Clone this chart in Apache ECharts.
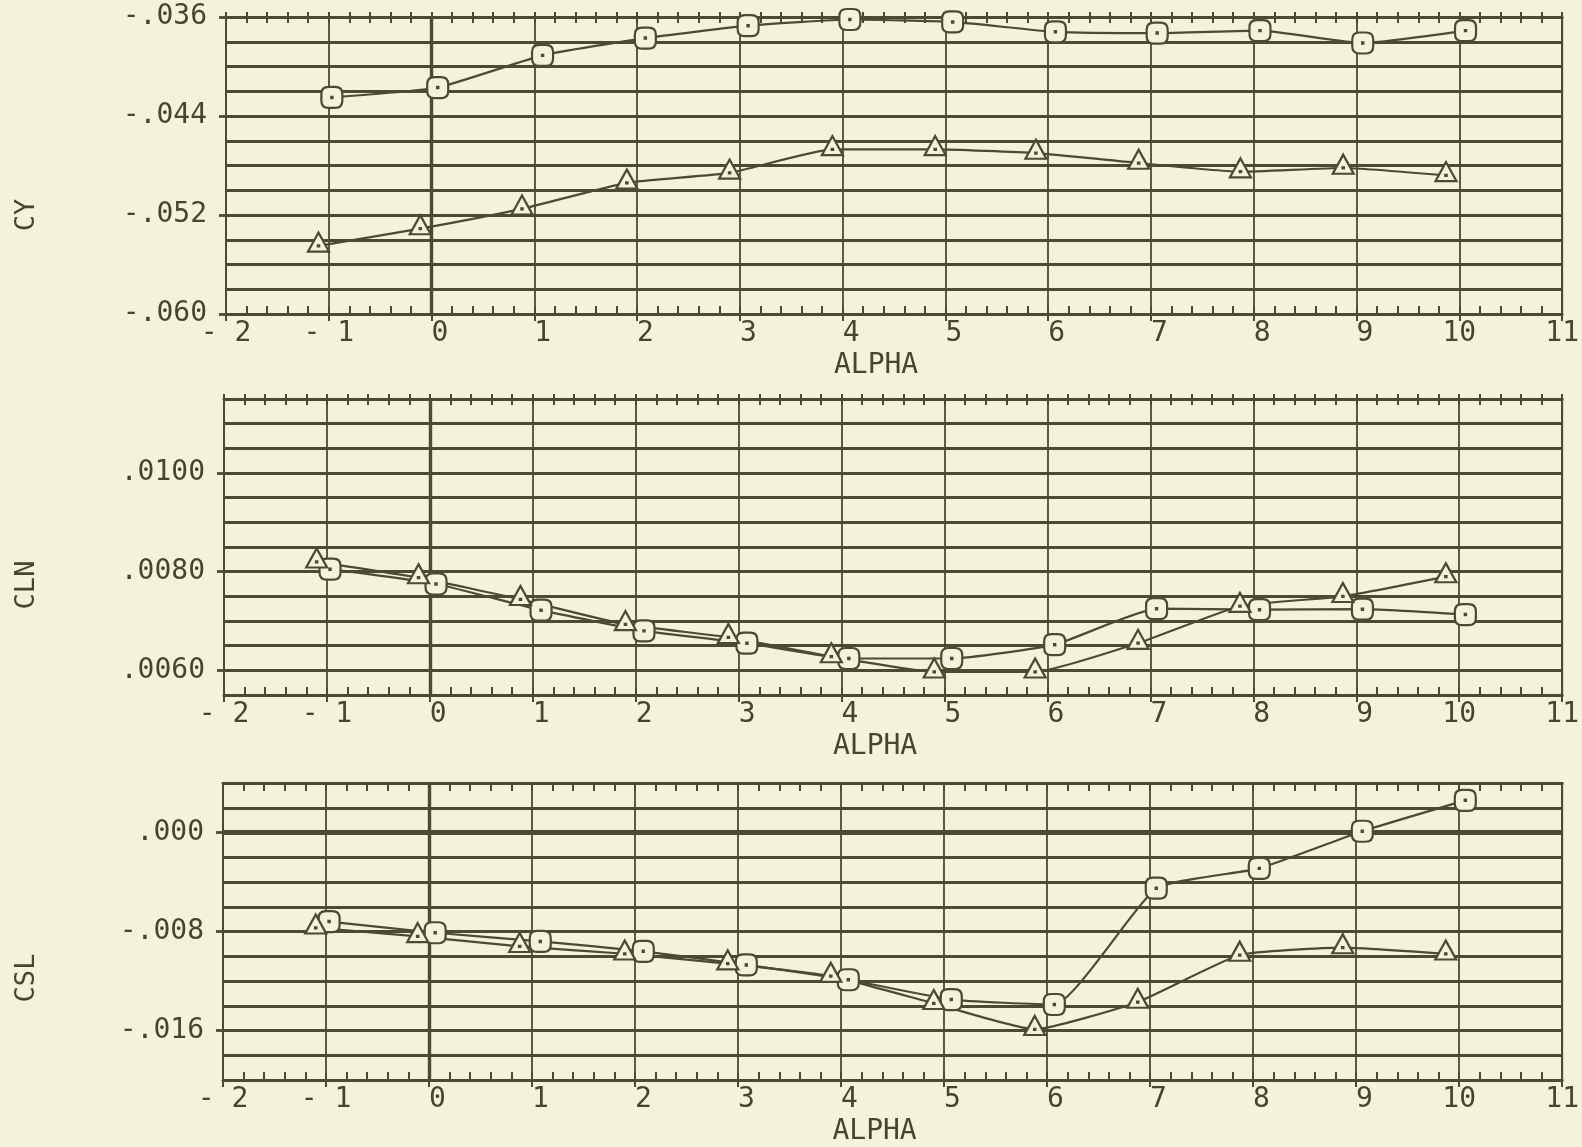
<!DOCTYPE html>
<html><head><meta charset="utf-8">
<script src="https://cdn.jsdelivr.net/npm/echarts@6/dist/echarts.min.js"></script>
<style>html,body{margin:0;padding:0;background:#f2f3da}#c{width:1582px;height:1147px}</style>
</head><body><div id="c"></div>
<script>
// ---- data ----
const alphaCircle   = [-0.97, 0.06, 1.08, 2.08, 3.08, 4.07, 5.07, 6.07, 7.06, 8.06, 9.06, 10.06];
const alphaTriangle = [-1.10, -0.11, 0.88, 1.90, 2.90, 3.90, 4.90, 5.88, 6.88, 7.87, 8.87, 9.87];

const cyCircle    = [-0.0425, -0.0417, -0.0391, -0.0377, -0.0367, -0.0362, -0.0364, -0.0372, -0.0373, -0.0371, -0.0381, -0.0371];
const cyTriangle  = [-0.0545, -0.0531, -0.0515, -0.0494, -0.0486, -0.0467, -0.0467, -0.0470, -0.0478, -0.0485, -0.0482, -0.0488];

const clnCircle   = [0.00805, 0.00775, 0.00722, 0.00680, 0.00655, 0.00624, 0.00624, 0.00652, 0.00725, 0.00723, 0.00724, 0.00713];
const clnTriangle = [0.00820, 0.00788, 0.00744, 0.00693, 0.00667, 0.00628, 0.00597, 0.00597, 0.00655, 0.00730, 0.00750, 0.00790];

const cslCircle   = [-0.0072, -0.0081, -0.0088, -0.0096, -0.0107, -0.0119, -0.0135, -0.0139, -0.0045, -0.0029, 0.0001, 0.0026];
const cslTriangle = [-0.0077, -0.0084, -0.0092, -0.0098, -0.0106, -0.0116, -0.0138, -0.0159, -0.0137, -0.0099, -0.0093, -0.0098];

const xTickLabels = ['- 2','- 1',' 0',' 1',' 2',' 3',' 4',' 5',' 6',' 7',' 8',' 9','10','11'];
const cyTicks  = [-0.060, -0.052, -0.044, -0.036];
const clnTicks = [0.0060, 0.0080, 0.0100];
const cslTicks = [-0.016, -0.008, 0.000];

// ---- styling ----
const INK = '#4b4b31';
const TXT = '#46462d';
const BG  = '#f2f3da';
const FONT = 'DejaVu Sans Mono';

const circleSym = 'path://M34,0 H66 Q100,0 100,34 V66 Q100,100 66,100 H34 Q0,100 0,66 V34 Q0,0 34,0 Z M47,47 H53 V53 H47 Z';
const triSym = 'path://M50,0 L100,100 L0,100 Z M47,67 H53 V73 H47 Z';

const panels = [
  {name:'CY',  grid:{left:226, top:17,  width:1342, height:297}, min:-0.060, max:-0.036, step:0.002, ticks:cyTicks, dec:3,
   c:cyCircle, t:cyTriangle, crossTop:true, nameY:215, zeroY:false},
  {name:'CLN', grid:{left:224, top:399, width:1344, height:296}, min:0.0055, max:0.0115, step:0.0005, ticks:clnTicks, dec:4,
   c:clnCircle, t:clnTriangle, crossTop:true, nameY:585, zeroY:false},
  {name:'CSL', grid:{left:223, top:783, width:1344, height:299}, min:-0.020, max:0.004, step:0.002, ticks:cslTicks, dec:3,
   c:cslCircle, t:cslTriangle, crossTop:false, nameY:978, zeroY:true}
];

function yFmt(dec){
  return function(v){
    const n = Math.round(Math.abs(v) * Math.pow(10, dec));
    return (v < -1e-9 ? '-' : '') + '.' + String(n).padStart(dec, '0');
  };
}
function xFmt(v){
  const i = Math.round(v) + 2;
  return xTickLabels[i] !== undefined ? xTickLabels[i] : '';
}
function pairs(xs, ys){ return xs.map((x,i)=>[x, ys[i]]); }

const option = {
  backgroundColor: BG,
  animation: false,
  grid: [], xAxis: [], yAxis: [], series: [], graphic: []
};

panels.forEach((p, gi) => {
  option.grid.push(Object.assign({show:true, borderColor:INK, borderWidth:2, backgroundColor:'transparent'}, p.grid));
  const xBase = {type:'value', gridIndex:gi, min:-2, max:11, interval:1};
  const xMain = option.xAxis.length;
  option.xAxis.push(Object.assign({}, xBase, {
    position:'bottom',
    name:'ALPHA', nameLocation:'middle', nameGap:38,
    nameTextStyle:{fontFamily:FONT, fontSize:28, color:TXT, padding:[0,36,0,0]},
    axisLine:{show:true, onZero:false, lineStyle:{color:INK, width:3}},
    axisTick:{show:true, inside:false, length:7, lineStyle:{color:INK, width:2}},
    minorTick:{show:false},
    splitLine:{show:true, lineStyle:{color:INK, width:1.8}},
    axisLabel:{show:true, formatter:xFmt, fontFamily:FONT, fontSize:28, color:TXT, margin:6}
  }));
  option.xAxis.push(Object.assign({}, xBase, {
    position:'bottom',
    axisLine:{show:false, onZero:false},
    axisTick:{show:true, inside:true, length:8, lineStyle:{color:INK, width:2}},
    minorTick:{show:true, splitNumber:5, length:8, lineStyle:{color:INK, width:2}},
    splitLine:{show:false}, axisLabel:{show:false}
  }));
  option.xAxis.push(Object.assign({}, xBase, {
    position:'top',
    axisLine:{show:true, onZero:false, lineStyle:{color:INK, width:3}},
    axisTick:{show:true, inside:true, length:p.crossTop?6:8, lineStyle:{color:INK, width:2}},
    minorTick:{show:true, splitNumber:5, length:p.crossTop?6:8, lineStyle:{color:INK, width:2}},
    splitLine:{show:false}, axisLabel:{show:false}
  }));
  if (p.crossTop) {
    option.xAxis.push(Object.assign({}, xBase, {
      position:'top',
      axisLine:{show:false, onZero:false},
      axisTick:{show:true, inside:false, length:5, lineStyle:{color:INK, width:2}},
      minorTick:{show:true, splitNumber:5, length:5, lineStyle:{color:INK, width:2}},
      splitLine:{show:false}, axisLabel:{show:false}
    }));
  }
  const yMain = option.yAxis.length;
  option.yAxis.push({
    type:'value', gridIndex:gi, min:p.min, max:p.max, interval:p.step, position:'left',
    axisLine:{show:true, onZero:false, lineStyle:{color:INK, width:2}},
    axisTick:{show:false}, axisLabel:{show:false},
    splitLine:{show:true, lineStyle:{color:INK, width:2.8}}
  });
  option.yAxis.push({
    type:'value', gridIndex:gi, min:p.min, max:p.max, position:'left',
    axisLine:{show:false, onZero:false},
    axisTick:{show:true, length:7, customValues:p.ticks, lineStyle:{color:INK, width:2.8}},
    axisLabel:{show:true, customValues:p.ticks, formatter:yFmt(p.dec), fontFamily:FONT, fontSize:28, color:TXT, margin:19},
    splitLine:{show:false}
  });
  const markData = [{xAxis:0, lineStyle:{width:3.4, color:INK, type:'solid'}}];
  if (p.zeroY) markData.push({yAxis:0, lineStyle:{width:5, color:INK, type:'solid'}});
  option.series.push({
    type:'line', xAxisIndex:xMain, yAxisIndex:yMain, data:pairs(alphaCircle, p.c),
    smooth:0.15, symbol:circleSym, symbolSize:21, showAllSymbol:true,
    lineStyle:{color:INK, width:2.2}, itemStyle:{color:BG, borderColor:INK, borderWidth:2.2},
    z:5,
    markLine:{silent:true, symbol:['none','none'], label:{show:false}, lineStyle:{type:'solid'}, data:markData, z:3}
  });
  option.series.push({
    type:'line', xAxisIndex:xMain, yAxisIndex:yMain, data:pairs(alphaTriangle, p.t),
    smooth:0.15, symbol:triSym, symbolSize:[21,19], symbolOffset:[0,'-20%'], showAllSymbol:true,
    lineStyle:{color:INK, width:2.2}, itemStyle:{color:BG, borderColor:INK, borderWidth:2.2},
    z:5
  });
  option.graphic.push({
    type:'text', x:27, y:p.nameY, rotation:Math.PI/2,
    style:{text:p.name, fontFamily:FONT, fontSize:27, fill:TXT, align:'center', verticalAlign:'middle'}
  });
});

const chart = echarts.init(document.getElementById('c'), null, {renderer:'canvas'});
chart.setOption(option);
</script>
</body></html>
